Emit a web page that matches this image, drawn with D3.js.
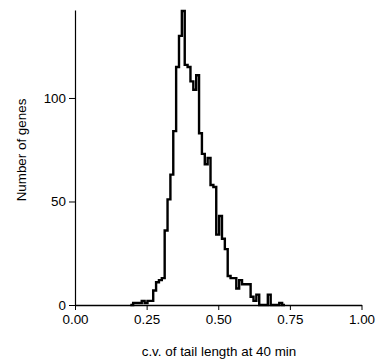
<!DOCTYPE html>
<html>
<head>
<meta charset="utf-8">
<script src="https://cdn.jsdelivr.net/npm/d3@7"></script>
<style>
  html, body { margin: 0; padding: 0; background: #fff; }
  svg { display: block; }
  text { font-family: "Liberation Sans", Arial, sans-serif; fill: #000; }
</style>
</head>
<body>
<svg id="chart" width="377" height="362"></svg>
<script>
// Histogram bins (left edge of each 0.01-wide bin) and gene counts
const binStarts = [0.193,0.203,0.213,0.223,0.233,0.243,0.253,0.263,0.273,0.283,0.293,0.303,0.313,0.323,0.333,0.343,0.353,0.363,0.373,0.383,0.393,0.403,0.413,0.423,0.433,0.443,0.453,0.463,0.473,0.483,0.493,0.503,0.513,0.523,0.533,0.543,0.553,0.563,0.573,0.583,0.593,0.603,0.613,0.623,0.633,0.643,0.653,0.663,0.673,0.683,0.693,0.703,0.713,0.723];
const counts    = [0,1,1,1,2,1,2,2,7,11,12,13,36,51,63,84,115,130,142,116,115,108,104,111,83,73,68,71,58,57,34,43,32,27,14,13,13,8,12,10,10,10,4,2,5,0,0,0,5,0,0,0,1,0];
const binWidth = 0.01;
const xTicks = [0, 0.25, 0.5, 0.75, 1];
const yTicks = [0, 50, 100];
const xLabel = "c.v. of tail length at 40 min";
const yLabel = "Number of genes";

const svg = d3.select("#chart");
const x = d3.scaleLinear().domain([0, 1]).range([75, 361.5]);
const y = d3.scaleLinear().domain([0, 142.5]).range([305, 10]);

// step outline
const pts = [];
binStarts.forEach((b, i) => {
  pts.push([b, counts[i]]);
  pts.push([b + binWidth, counts[i]]);
});

svg.append("path")
  .attr("d", d3.line().x(d => x(d[0])).y(d => y(d[1]))(pts))
  .attr("fill", "none")
  .attr("stroke", "#000")
  .attr("stroke-width", 2.4)
  .attr("stroke-linejoin", "miter");

const fontSize = 13.4;

// x axis
const xAxis = svg.append("g")
  .attr("transform", "translate(0,305)")
  .call(d3.axisBottom(x).tickValues(xTicks).tickFormat(d3.format(".2f")).tickSize(5).tickSizeOuter(0));
xAxis.select(".domain").attr("stroke-width", 1.6);
xAxis.selectAll(".tick line").attr("stroke-width", 1);
xAxis.selectAll(".tick text").attr("font-size", fontSize).attr("dy", "0.85em").attr("font-family", "Liberation Sans, Arial, sans-serif");

// y axis
const yAxis = svg.append("g")
  .attr("transform", "translate(75,0)")
  .call(d3.axisLeft(y).tickValues(yTicks).tickSize(6).tickSizeOuter(0));
yAxis.select(".domain").attr("stroke-width", 1.2);
yAxis.selectAll(".tick line").attr("stroke-width", 1);
yAxis.selectAll(".tick text").attr("font-size", fontSize).attr("x", -9).attr("font-family", "Liberation Sans, Arial, sans-serif");

// axis titles
svg.append("text")
  .attr("x", 219).attr("y", 356)
  .attr("text-anchor", "middle")
  .attr("font-size", fontSize)
  .text(xLabel);

svg.append("text")
  .attr("transform", "translate(26,150) rotate(-90)")
  .attr("text-anchor", "middle")
  .attr("font-size", fontSize)
  .text(yLabel);
</script>
</body>
</html>
